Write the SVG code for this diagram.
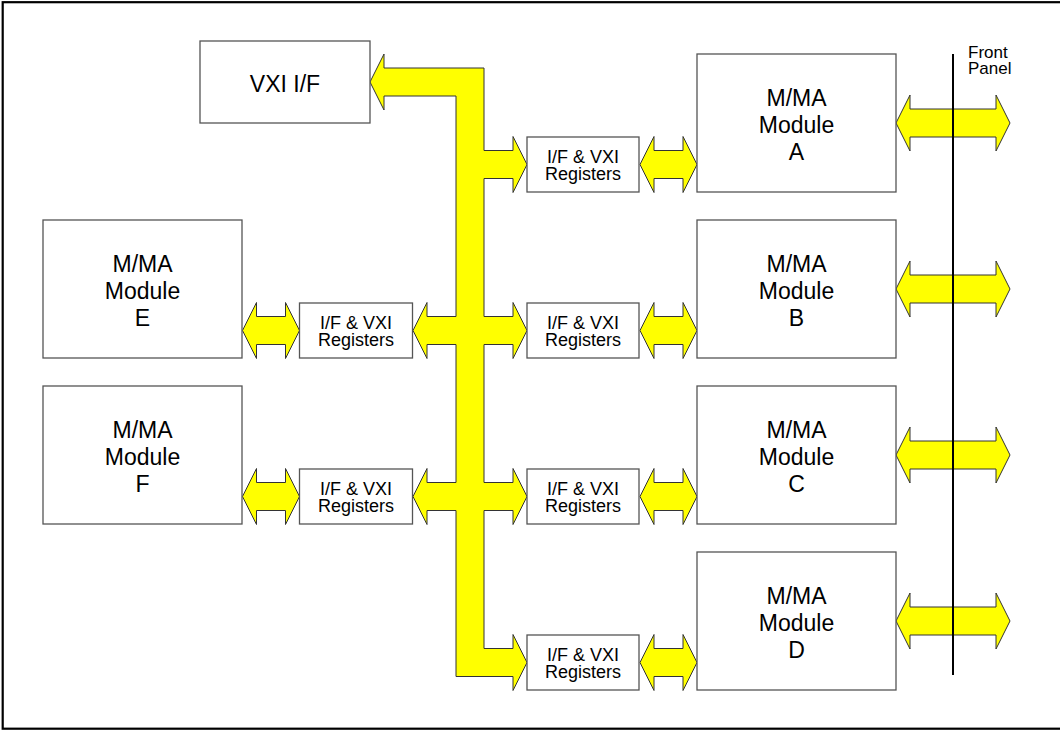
<svg xmlns="http://www.w3.org/2000/svg" xmlns:xlink="http://www.w3.org/1999/xlink" width="1060" height="730" viewBox="0 0 1060 730">
<style>
.box{fill:#fff;stroke:#555;stroke-width:1.3}
.arr{fill:#ffff00;stroke:#333;stroke-width:1}
.mt{font-family:"Liberation Sans",Arial,sans-serif;font-size:23px;fill:#000;text-anchor:middle}
.rt{font-family:"Liberation Sans",Arial,sans-serif;font-size:18px;fill:#000;text-anchor:middle}
.ft{font-family:"Liberation Sans",Arial,sans-serif;font-size:17px;fill:#000}
</style>
<defs>
<polygon id="dbl" points="0,0 14,-28 14,-14 43,-14 43,-28 57,0 43,28 43,14 14,14 14,28"/>
<polygon id="dblLong" points="0,0 14,-28 14,-14 100,-14 100,-28 114,0 100,28 100,14 14,14 14,28"/>
</defs>
<rect x="2.7" y="2.2" width="1060" height="726.5" fill="#fff" stroke="#000" stroke-width="2.2"/>

<g id="connectors">
<polygon class="arr" points="370,82 384,54 384,68 484,68 484,150.5 513,150.5 513,136.5 527,164.5 513,192.5 513,178.5 484,178.5 484,316.5 513,316.5 513,302.5 527,330.5 513,358.5 513,344.5 484,344.5 484,482.5 513,482.5 513,468.5 527,496.5 513,524.5 513,510.5 484,510.5 484,648.5 513,648.5 513,634.5 527,662.5 513,690.5 513,676.5 456,676.5 456,510.5 427,510.5 427,524.5 413,496.5 427,468.5 427,482.5 456,482.5 456,344.5 427,344.5 427,358.5 413,330.5 427,302.5 427,316.5 456,316.5 456,96 384,96 384,110"/>
<use xlink:href="#dbl" class="arr" x="640" y="164.5"/>
<use xlink:href="#dbl" class="arr" x="640" y="330.5"/>
<use xlink:href="#dbl" class="arr" x="640" y="496.5"/>
<use xlink:href="#dbl" class="arr" x="640" y="662.5"/>
<use xlink:href="#dbl" class="arr" x="242.5" y="330.5"/>
<use xlink:href="#dbl" class="arr" x="242.5" y="496.5"/>
<use xlink:href="#dblLong" class="arr" x="896" y="123"/>
<use xlink:href="#dblLong" class="arr" x="896" y="289"/>
<use xlink:href="#dblLong" class="arr" x="896" y="455"/>
<use xlink:href="#dblLong" class="arr" x="896" y="621"/>
<line x1="953" y1="54" x2="953" y2="675" stroke="#000" stroke-width="2"/>
</g>

<g id="front-panel">
<text class="ft" x="968" y="58">Front</text>
<text class="ft" x="968" y="74">Panel</text>
</g>

<g id="vxi-if">
<rect class="box" x="200" y="41" width="170" height="82"/>
<text class="mt" x="285" y="91.5">VXI I/F</text>
</g>

<g id="module-a">
<rect class="box" x="697" y="54" width="199" height="138"/>
<text class="mt" x="796.5" y="105.5">M/MA</text>
<text class="mt" x="796.5" y="132.5">Module</text>
<text class="mt" x="796.5" y="160">A</text>
</g>
<g id="module-b">
<rect class="box" x="697" y="220" width="199" height="138"/>
<text class="mt" x="796.5" y="271.5">M/MA</text>
<text class="mt" x="796.5" y="298.5">Module</text>
<text class="mt" x="796.5" y="326">B</text>
</g>
<g id="module-c">
<rect class="box" x="697" y="386" width="199" height="138"/>
<text class="mt" x="796.5" y="437.5">M/MA</text>
<text class="mt" x="796.5" y="464.5">Module</text>
<text class="mt" x="796.5" y="492">C</text>
</g>
<g id="module-d">
<rect class="box" x="697" y="552" width="199" height="138"/>
<text class="mt" x="796.5" y="603.5">M/MA</text>
<text class="mt" x="796.5" y="630.5">Module</text>
<text class="mt" x="796.5" y="658">D</text>
</g>
<g id="module-e">
<rect class="box" x="43" y="220" width="199" height="138"/>
<text class="mt" x="142.5" y="271.5">M/MA</text>
<text class="mt" x="142.5" y="298.5">Module</text>
<text class="mt" x="142.5" y="326">E</text>
</g>
<g id="module-f">
<rect class="box" x="43" y="386" width="199" height="138"/>
<text class="mt" x="142.5" y="437.5">M/MA</text>
<text class="mt" x="142.5" y="464.5">Module</text>
<text class="mt" x="142.5" y="492">F</text>
</g>

<g id="regs-a">
<rect class="box" x="527" y="137" width="112" height="55"/>
<text class="rt" x="583" y="163">I/F &amp; VXI</text>
<text class="rt" x="583" y="179.5">Registers</text>
</g>
<g id="regs-b">
<rect class="box" x="527" y="303" width="112" height="55"/>
<text class="rt" x="583" y="329">I/F &amp; VXI</text>
<text class="rt" x="583" y="345.5">Registers</text>
</g>
<g id="regs-c">
<rect class="box" x="527" y="469" width="112" height="55"/>
<text class="rt" x="583" y="495">I/F &amp; VXI</text>
<text class="rt" x="583" y="511.5">Registers</text>
</g>
<g id="regs-d">
<rect class="box" x="527" y="635" width="112" height="55"/>
<text class="rt" x="583" y="661">I/F &amp; VXI</text>
<text class="rt" x="583" y="677.5">Registers</text>
</g>
<g id="regs-e">
<rect class="box" x="299.5" y="303" width="113" height="55"/>
<text class="rt" x="356" y="329">I/F &amp; VXI</text>
<text class="rt" x="356" y="345.5">Registers</text>
</g>
<g id="regs-f">
<rect class="box" x="299.5" y="469" width="113" height="55"/>
<text class="rt" x="356" y="495">I/F &amp; VXI</text>
<text class="rt" x="356" y="511.5">Registers</text>
</g>
</svg>
